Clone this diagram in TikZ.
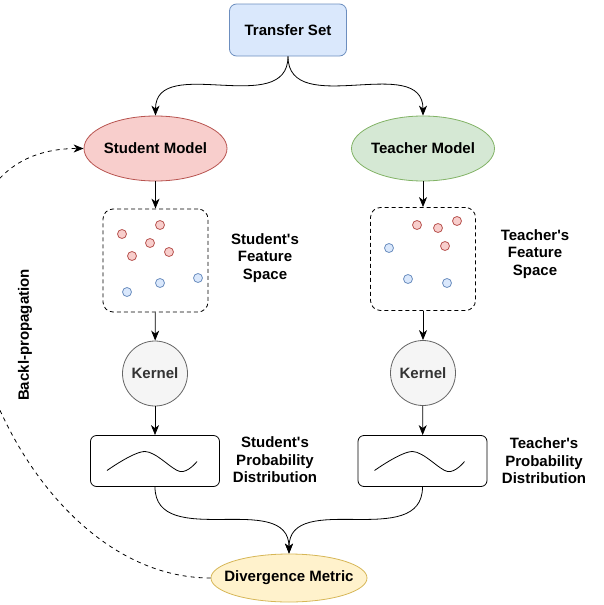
\documentclass[tikz,border=0pt]{standalone}
\usepackage{fontspec}
\setmainfont{Liberation Sans}
\usetikzlibrary{arrows.meta,positioning,shapes.geometric,calc}
\definecolor{blueF}{HTML}{DAE8FC}\definecolor{blueD}{HTML}{6C8EBF}
\definecolor{redF}{HTML}{F8CECC}\definecolor{redD}{HTML}{B85450}
\definecolor{greenF}{HTML}{D5E8D4}\definecolor{greenD}{HTML}{82B366}
\definecolor{yellowF}{HTML}{FFF2CC}\definecolor{yellowD}{HTML}{D6B656}
\definecolor{greyF}{HTML}{F5F5F5}\definecolor{greyD}{HTML}{666666}\definecolor{greyT}{HTML}{333333}
\newcommand{\apos}{\textquotesingle}

\begin{document}
\begin{tikzpicture}[x=1pt,y=-1pt,line width=0.8pt,>={Stealth[length=10pt,width=8pt,inset=3pt]},
  every node/.style={font=\fontsize{15}{17.5}\selectfont\bfseries},
  model/.style={ellipse,draw,inner xsep=-4pt,inner ysep=0pt,minimum width=143pt,minimum height=65pt},
  fspace/.style={draw,dash pattern=on 4pt off 3pt,rounded corners=10pt,minimum width=105pt,minimum height=103pt},
  kernel/.style={circle,draw=greyD,fill=greyF,text=greyT,minimum size=65pt,inner sep=0pt},
  dist/.style={draw,rounded corners=6pt,minimum width=129pt,minimum height=51pt},
  caption/.style={align=center},
  rdot/.style={draw=redD,fill=redF},
  bdot/.style={draw=blueD,fill=blueF}]
\useasboundingbox (0,0) rectangle (603,605);

\node[draw=blueD,fill=blueF,rounded corners=7pt,minimum width=117pt,minimum height=52pt] (ts) at (288,30) {Transfer Set};
\node[model,draw=redD,fill=redF] (sm) at (155.5,148.5) {Student Model};
\node[model,draw=greenD,fill=greenF] (tm) at (423,148.5) {Teacher Model};
\node[fspace] (sf) at (155.5,260.5) {};
\node[fspace] (tf) at (423,259) {};
\node[caption] (sfl) at (265,258) {Student\apos s\\Feature\\Space};
\node[caption] (tfl) at (535,254) {Teacher\apos s\\Feature\\Space};
\node[kernel] (sk) at (155,373.5) {Kernel};
\node[kernel] (tk) at (423,373) {Kernel};
\node[dist] (sp) at (155,461) {};
\node[dist] (tp) at (422.5,461) {};
\node[caption] (spl) at (275,460) {Student\apos s\\Probability\\Distribution};
\node[caption] (tpl) at (544,461) {Teacher\apos s\\Probability\\Distribution};
\node[ellipse,draw=yellowD,fill=yellowF,inner xsep=-12pt,inner ysep=0pt,minimum width=156pt,minimum height=48pt] (dm) at (289,578) {Divergence Metric};
\node[rotate=90] (bp) at (25,335) {Backl-propagation};

% feature points
\foreach \p in {(160,225),(122,234),(150,243),(132,256),(169,252),(417,225),(438,228),(457,221),(445,246)}
  \draw[rdot] \p circle (4.5pt);
\foreach \p in {(127,292),(160,283),(198,278),(389,248),(408,279),(447,283)}
  \draw[bdot] \p circle (4.5pt);

% distribution curves
\foreach \b in {sp,tp}
  \draw[shift={(\b.center)}] plot[smooth,tension=0.55] coordinates {(-48,9.5) (-10,-9.5) (25,10.5) (42,0.5)};

\path[->]
(ts.south) edge[out=-90,in=90,looseness=1.1] (sm.north)
(ts.south) edge[out=-90,in=90,looseness=1.1] (tm.north)
(sm) edge (sf) (sf) edge (sk) (sk) edge (sp)
(tm) edge (tf) (tf) edge (tk) (tk) edge (tp)
(sp.south) edge[out=-90,in=90,looseness=1.1] (dm.north)
(tp.south) edge[out=-90,in=90,looseness=1.1] (dm.north)
;
\path[->,dash pattern=on 4pt off 4pt]
(dm.west) edge[out=180,in=180,looseness=1.25] (sm.west)
;
\end{tikzpicture}
\end{document}
